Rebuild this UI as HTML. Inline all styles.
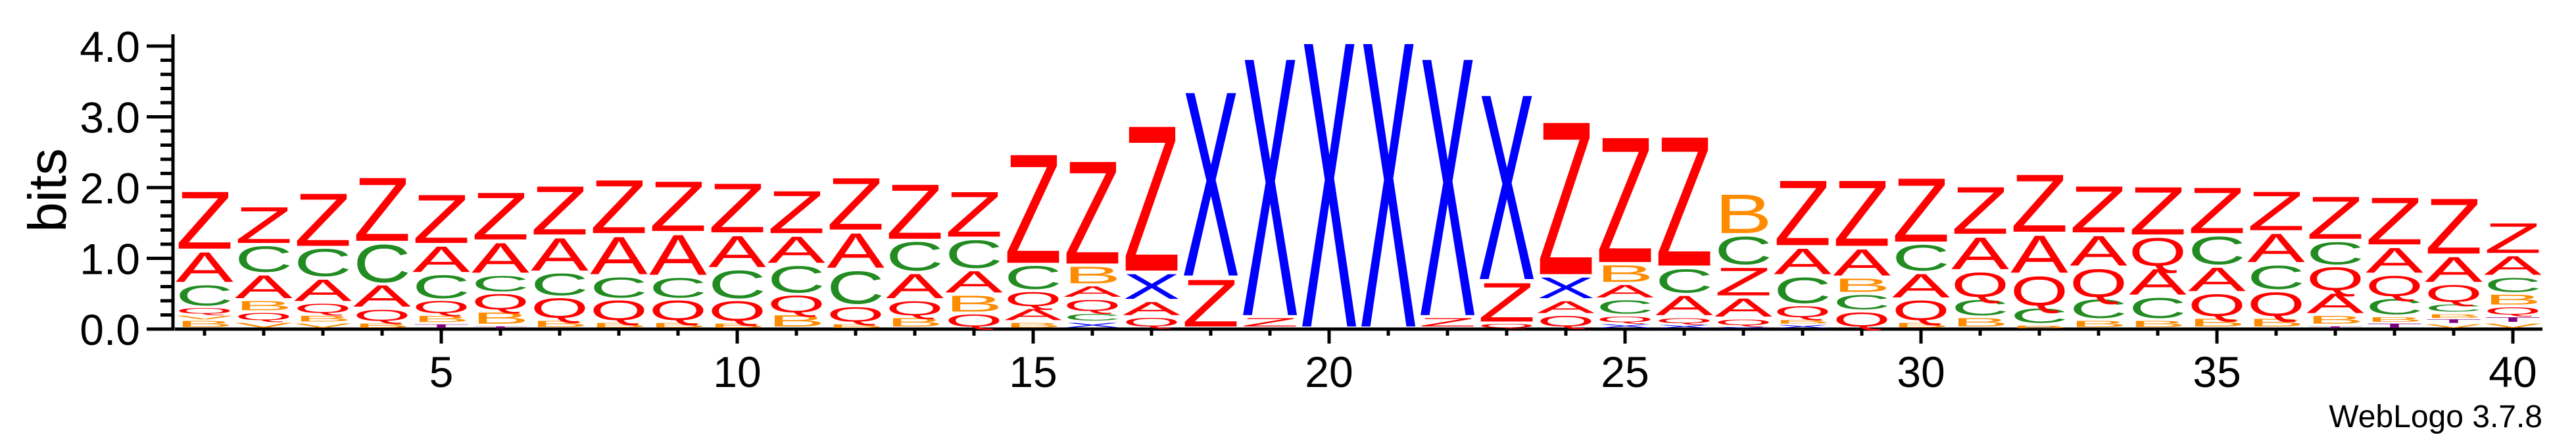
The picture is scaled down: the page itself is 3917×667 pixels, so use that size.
<!DOCTYPE html>
<html><head><meta charset="utf-8"><style>
html,body{margin:0;padding:0;background:#fff;}
svg{display:block;}
text{font-family:"Liberation Sans",Arial,sans-serif;}
</style></head><body>
<svg id="chart" width="3917" height="667" viewBox="0 0 3917 667" xmlns="http://www.w3.org/2000/svg">
<g id="axes"></g>
<g id="stacks"></g>
<text x="0" y="0" font-size="82" text-anchor="middle" transform="translate(100,289) rotate(-90)">bits</text>
<text x="3866" y="649" font-size="48" text-anchor="end">WebLogo 3.7.8</text>
</svg>
<script>
// Per-position stacks, top letter first: letters and heights (bits)
const positions = [1,2,3,4,5,6,7,8,9,10,11,12,13,14,15,16,17,18,19,20,21,22,23,24,25,26,27,28,29,30,31,32,33,34,35,36,37,38,39,40];
const stackLetters = [
 ["Z","A","C","Q","V","B"],["Z","C","A","B","Q","V"],["Z","C","A","Q","B","V"],["Z","C","A","Q","B"],
 ["Z","A","C","Q","B","T"],["Z","A","C","Q","B","T"],["Z","A","C","Q","B"],["Z","A","C","Q","B"],
 ["Z","A","C","Q","B"],["Z","A","C","Q","B"],["Z","A","C","Q","B"],["Z","A","C","Q","B"],
 ["Z","C","A","Q","B"],["Z","C","A","B","Q"],["Z","C","Q","A","B"],["Z","B","A","Q","C","X"],
 ["Z","X","A","Q"],["X","Z"],["X","Z"],["X"],["X"],["X","Z"],["X","Z","Q"],["Z","X","A","Q"],
 ["Z","B","A","C","Q","X"],["Z","C","A","Q","X"],["B","C","Z","A","Q","X"],["Z","A","C","Q","B","X"],
 ["Z","A","B","C","Q"],["Z","C","A","Q","B"],["Z","A","Q","C","B"],["Z","A","Q","C","B"],
 ["Z","A","Q","C","B"],["Z","Q","A","C","B"],["Z","C","A","Q","B"],["Z","A","C","Q","B"],
 ["Z","C","Q","A","B","T"],["Z","A","Q","C","B","T"],["Z","A","Q","C","B","T","V"],["Z","A","C","B","Q","T","V"]
];
const stackHeights = [
 [.87,.47,.33,.11,.07,.12],[.56,.41,.37,.17,.14,.09],[.80,.43,.35,.17,.11,.08],[.96,.58,.35,.20,.08],
 [.74,.41,.37,.21,.12,.07],[.72,.47,.26,.26,.20,.04],[.74,.51,.35,.32,.12],[.81,.58,.33,.32,.09],
 [.76,.62,.32,.32,.09],[.75,.49,.44,.32,.08],[.65,.42,.42,.28,.20],[.79,.54,.51,.25,.07],
 [.83,.45,.39,.24,.16],[.69,.44,.35,.27,.21],[1.62,.37,.24,.20,.09],[1.53,.28,.19,.20,.13,.09],
 [2.15,.40,.23,.16],[2.72,.72],[3.79,.16],[4.19],[4.19],[3.79,.16],[2.73,.60,.07],[2.26,.34,.21,.19],
 [1.86,.28,.22,.23,.11,.07],[1.92,.38,.32,.10,.06],[.60,.44,.44,.30,.11,.03],[.98,.41,.41,.20,.07,.06],
 [.99,.42,.23,.25,.24],[.96,.41,.38,.32,.09],[.72,.50,.39,.26,.16],[.87,.58,.46,.25,.05],
 [.71,.47,.44,.30,.12],[.73,.44,.41,.33,.12],[.70,.44,.38,.35,.15],[.60,.45,.38,.38,.15],
 [.65,.36,.37,.32,.15,.04],[.72,.40,.33,.26,.09,.08],[.84,.40,.28,.14,.07,.07,.07],[.47,.31,.24,.18,.14,.09,.08]
];
const yTickLabels = ["0.0","1.0","2.0","3.0","4.0"];
const xTickLabels = [5,10,15,20,25,30,35,40];

const NS = "http://www.w3.org/2000/svg";
const X0 = 311, DX = 90, Y0 = 500, PXB = 107.5, COLW = 82;
const xPos = p => X0 + (p - 1) * DX;
const yPos = b => Y0 - b * PXB;
const colors = {Z:"#FF0000",A:"#FF0000",Q:"#FF0000",C:"#228B22",B:"#FF8C00",V:"#FF8C00",X:"#0000FF",T:"#800080"};
function mk(tag, attrs, parent){ const e=document.createElementNS(NS,tag); for(const k in attrs) e.setAttribute(k,attrs[k]); parent.appendChild(e); return e; }

const axes = document.getElementById("axes");
let el;
el = mk("rect",{x:260.5,y:52,width:5,height:450.5,fill:"#000"},axes);


el = mk("rect",{x:266,y:497.5,width:3600,height:5,fill:"#000"},axes);


for (let i=0;i<=20;i++){
  const b=i*0.2, major=(i%5===0);
  const len = major?40:19;
  el = mk("rect",{x:263-len,y:yPos(b)-2.5,width:len,height:5,fill:"#000"},axes);
  
  
}
yTickLabels.forEach((t,i)=>{
  el = mk("text",{x:213,y:yPos(i)+24,"font-size":66,"text-anchor":"end"},axes);
  el.textContent=t;
  
  
});
positions.forEach(p=>{
  const major = xTickLabels.indexOf(p)>=0;
  el = mk("rect",{x:xPos(p)-2.5,y:500,width:5,height:major?22:10,fill:"#000"},axes);
  
  
});
xTickLabels.forEach(p=>{
  el = mk("text",{x:xPos(p),y:588,"font-size":66,"text-anchor":"middle"},axes);
  el.textContent=String(p);
  
  
});

const stacks = document.getElementById("stacks");
positions.forEach((p,i)=>{
  const g = mk("g",{},stacks);
  
  
  const L = stackLetters[i], H = stackHeights[i];
  let base = 0;
  for (let k=L.length-1;k>=0;k--){
    const h = H[k];
    const top = yPos(base+h), bot = yPos(base);
    const slot = bot - top;
    const gap = Math.min(4, slot*0.25);
    const gh = slot - gap;
    const sy = gh/71.6;
    const w = COLW*1.07;
    const t = mk("text",{x:-w/2,y:0,"font-size":100,fill:colors[L[k]]||"#000",
      textLength:w,lengthAdjust:"spacingAndGlyphs",
      transform:"translate("+xPos(p)+","+(bot-gap)+") scale(1,"+sy+")"},g);
    t.textContent=L[k];
    
    
    base += h;
  }
});
</script>
</body></html>
